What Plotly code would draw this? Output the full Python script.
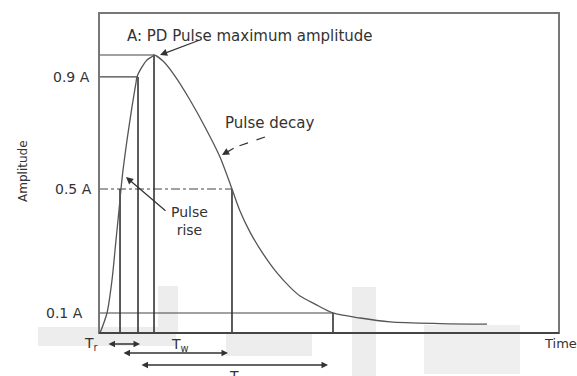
import plotly.graph_objects as go

# ---- data (time in arbitrary units, amplitude normalised to A = 1) ----
rise_t = [0.22, 1.74, 2.83, 3.70, 4.35, 4.78, 5.22, 6.09, 7.17, 8.04, 8.26, 9.35, 10.43, 11.74]
rise_y = [0.0, 0.072, 0.191, 0.335, 0.442, 0.518, 0.586, 0.694, 0.813, 0.900, 0.921, 0.957, 0.982, 0.996]
decay_t = [11.96, 13.91, 16.52, 19.78, 23.04, 26.30, 28.91, 30.65, 32.83, 35.43, 38.70, 41.52,
           43.70, 46.96, 50.87, 56.74, 63.26, 74.13, 84.35]
decay_y = [1.0, 0.978, 0.924, 0.838, 0.741, 0.633, 0.518, 0.439, 0.363, 0.291, 0.216, 0.165,
           0.133, 0.104, 0.072, 0.054, 0.040, 0.034, 0.032]

level_vals = [1.0, 0.921, 0.518, 0.072]
level_labels = ["", "0.9 A", "0.5 A", "0.1 A"]
level_end_t = [11.96, 8.48, 28.91, 50.87]
vert_t = [4.57, 8.48, 11.96, 28.91, 50.87]
vert_top = [0.518, 0.921, 1.0, 0.518, 0.072]

interval_names = ["T<sub>r</sub>", "T<sub>w</sub>", "T"]
interval_start = [1.74, 5.0, 8.91]
interval_end = [8.91, 28.04, 49.78]

FONT = "DejaVu Sans"
TXT = "#333333"
DARK = "#333333"
PX_PER_T = 4.6            # plot width 460 px / 100 time units


def paper_x(px):
    return (px - 99) / 460


def paper_y(py):
    return (333 - py) / 320


fig = go.Figure()


# light grey scan blotches
def px_rect(x0, y0, x1, y1, color="#ededed"):
    fig.add_shape(type="rect", xref="paper", yref="paper",
                  x0=paper_x(x0), x1=paper_x(x1), y0=paper_y(y1), y1=paper_y(y0),
                  fillcolor=color, line_width=0, layer="below")


px_rect(38, 327, 176, 346)
px_rect(158, 286, 178, 333)
px_rect(226, 333, 312, 356)
px_rect(352, 287, 376, 376)
px_rect(424, 325, 520, 374, "#efefef")

# guide lines
for lv, te, lab in zip(level_vals, level_end_t, level_labels):
    dash = "dashdot" if lab == "0.5 A" else "solid"
    fig.add_trace(go.Scatter(x=[0, te], y=[lv, lv], mode="lines",
                             line=dict(color="#444444", width=1.2, dash=dash),
                             hoverinfo="skip", showlegend=False))
for vt, vtop in zip(vert_t, vert_top):
    fig.add_trace(go.Scatter(x=[vt, vt], y=[0, vtop], mode="lines",
                             line=dict(color=DARK, width=1.6),
                             hoverinfo="skip", showlegend=False))

# pulse curve
fig.add_trace(go.Scatter(x=rise_t + decay_t, y=rise_y + decay_y, mode="lines",
                         line=dict(color="#555555", width=1.3, shape="spline", smoothing=0.8),
                         hoverinfo="skip", showlegend=False))

# frame
fig.add_shape(type="rect", xref="paper", yref="paper", x0=0, x1=1, y0=0, y1=1,
              line=dict(color="#777777", width=2))
fig.add_shape(type="line", xref="paper", yref="paper", x0=0, x1=1, y0=0, y1=0,
              line=dict(color="#444444", width=2))

ann = []
# level labels (left of the frame)
for lv, lab, px in zip(level_vals, level_labels, [0, 92, 94, 85]):
    if lab:
        ann.append(dict(x=paper_x(px), y=lv, xref="paper", yref="y", text=lab,
                        showarrow=False, xanchor="right", yanchor="middle",
                        font=dict(family=FONT, size=14, color=TXT)))

# interval arrows below the time axis
for s, e, py in zip(interval_start, interval_end, [344, 353, 365]):
    ann.append(dict(x=e, y=paper_y(py), xref="x", yref="paper",
                    ax=-(e - s) * PX_PER_T, ay=0, axref="pixel", ayref="pixel",
                    text="", showarrow=True, arrowhead=2, arrowside="end+start",
                    arrowsize=1, arrowwidth=1.3, arrowcolor=DARK))

ann += [
    dict(x=paper_x(91), y=paper_y(344), xref="paper", yref="paper", text=interval_names[0],
         showarrow=False, xanchor="center", yanchor="middle",
         font=dict(family=FONT, size=14, color=TXT)),
    dict(x=17.6, y=paper_y(345), xref="x", yref="paper", text=interval_names[1],
         showarrow=False, xanchor="center", yanchor="middle",
         font=dict(family=FONT, size=14, color=TXT)),
    dict(x=29.35, y=paper_y(366), xref="x", yref="paper", text=interval_names[2],
         showarrow=False, xanchor="center", yanchor="top",
         font=dict(family=FONT, size=14, color=TXT)),
    dict(x=5.65, y=1.068, xref="x", yref="y", text="A: PD Pulse maximum amplitude",
         showarrow=False, xanchor="left", yanchor="middle",
         font=dict(family=FONT, size=15, color=TXT)),
    dict(x=13.26, y=1.0, ax=21.96, ay=1.054, xref="x", yref="y", axref="x", ayref="y",
         text="", showarrow=True, arrowhead=2, arrowsize=1.2, arrowwidth=1.2, arrowcolor=DARK),
    dict(x=26.96, y=0.755, xref="x", yref="y", text="Pulse decay", showarrow=False,
         xanchor="left", yanchor="middle", font=dict(family=FONT, size=15, color=TXT)),
    dict(x=26.74, y=0.640, ax=29.6, ay=0.668, xref="x", yref="y", axref="x", ayref="y",
         text="", showarrow=True, arrowhead=2, arrowsize=1.2, arrowwidth=1.2, arrowcolor=DARK),
    dict(x=19.57, y=0.403, xref="x", yref="y", text="Pulse<br>rise", showarrow=False,
         xanchor="center", yanchor="middle", font=dict(family=FONT, size=14, color=TXT)),
    dict(x=5.87, y=0.561, ax=14.78, ay=0.435, xref="x", yref="y", axref="x", ayref="y",
         text="", showarrow=True, arrowhead=2, arrowsize=1.2, arrowwidth=1.2, arrowcolor=DARK),
    dict(x=paper_x(23), y=0.583, xref="paper", yref="y", text="Amplitude", textangle=-90,
         showarrow=False, xanchor="center", yanchor="middle",
         font=dict(family=FONT, size=12, color=TXT)),
    dict(x=96.3, y=paper_y(343), xref="x", yref="paper", text="Time", showarrow=False,
         xanchor="left", yanchor="middle", font=dict(family=FONT, size=13, color=TXT)),
]

# dashed tail of the "Pulse decay" arrow
fig.add_shape(type="line", xref="x", yref="y", x0=36.09, y0=0.705, x1=29.6, y1=0.668,
              line=dict(color=DARK, width=1.2, dash="dash"))

fig.update_layout(
    width=577, height=376,
    margin=dict(l=99, r=18, t=13, b=43),
    paper_bgcolor="white", plot_bgcolor="white",
    xaxis=dict(range=[0, 100], showgrid=False, zeroline=False, showticklabels=False,
               ticks="", showline=False),
    yaxis=dict(range=[0, 1.151], showgrid=False, zeroline=False, showticklabels=False,
               ticks="", showline=False),
    annotations=ann,
    showlegend=False,
)

fig.write_html("out.html")
